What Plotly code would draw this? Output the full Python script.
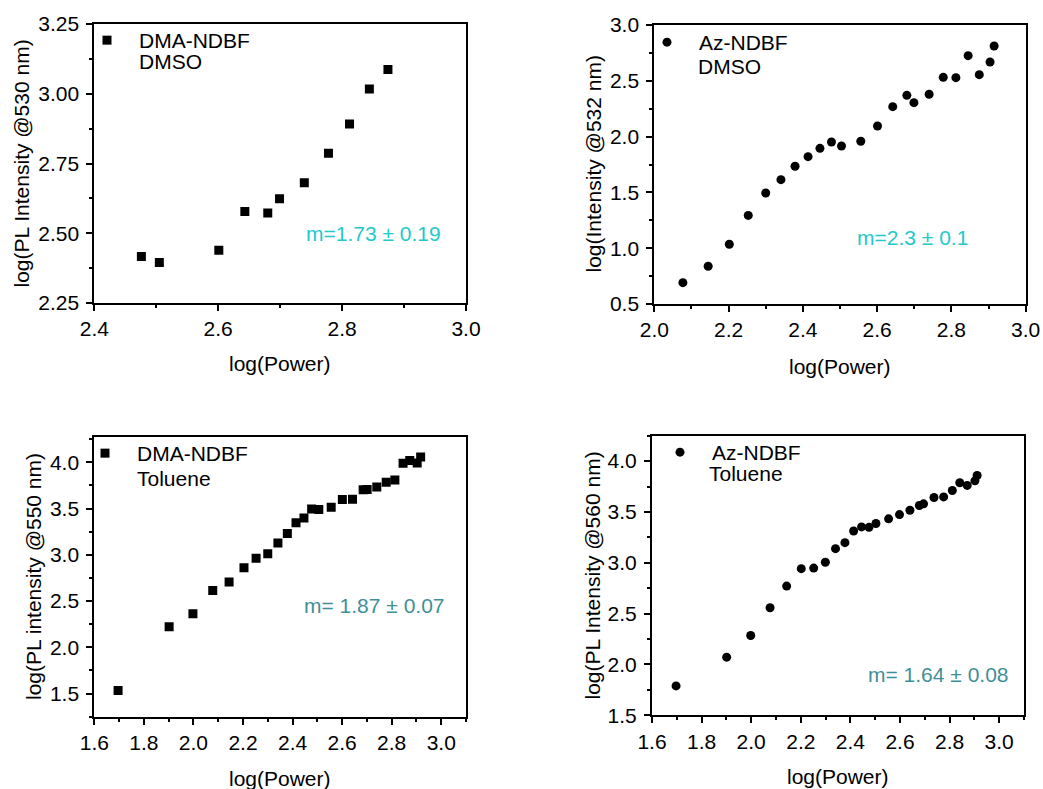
import plotly.graph_objects as go

# ---------------- data ----------------
p1_x = [2.476, 2.505, 2.601, 2.643, 2.680, 2.699, 2.739, 2.778, 2.812, 2.844, 2.874]
p1_y = [2.417, 2.395, 2.439, 2.578, 2.573, 2.624, 2.681, 2.787, 2.892, 3.017, 3.087]

p2_x = [2.077, 2.145, 2.202, 2.253, 2.300, 2.341, 2.379, 2.414, 2.446, 2.477, 2.504, 2.556,
        2.601, 2.642, 2.680, 2.699, 2.740, 2.778, 2.812, 2.845, 2.875, 2.904, 2.915]
p2_y = [0.691, 0.838, 1.035, 1.294, 1.495, 1.614, 1.734, 1.820, 1.895, 1.952, 1.916, 1.958,
        2.095, 2.268, 2.370, 2.304, 2.379, 2.531, 2.528, 2.725, 2.555, 2.668, 2.812]

p3_x = [1.696, 1.902, 1.998, 2.078, 2.144, 2.204, 2.253, 2.300, 2.341, 2.379, 2.414, 2.446, 2.477,
        2.506, 2.556, 2.601, 2.642, 2.685, 2.701, 2.740, 2.778, 2.813, 2.846, 2.873, 2.903, 2.917]
p3_y = [1.532, 2.222, 2.362, 2.613, 2.707, 2.861, 2.962, 3.012, 3.127, 3.231, 3.346, 3.397, 3.494,
        3.490, 3.515, 3.598, 3.601, 3.702, 3.705, 3.734, 3.784, 3.809, 3.989, 4.018, 3.993, 4.057]

p4_x = [1.697, 1.901, 1.998, 2.076, 2.143, 2.202, 2.252, 2.299, 2.340, 2.378, 2.413, 2.445, 2.475,
        2.503, 2.554, 2.598, 2.640, 2.678, 2.695, 2.737, 2.776, 2.811, 2.841, 2.871, 2.902, 2.911]
p4_y = [1.789, 2.072, 2.285, 2.558, 2.771, 2.942, 2.948, 3.005, 3.139, 3.198, 3.313, 3.353, 3.349,
        3.386, 3.432, 3.474, 3.517, 3.563, 3.580, 3.642, 3.648, 3.711, 3.787, 3.761, 3.806, 3.859]

compounds = ["DMA-NDBF", "Az-NDBF", "DMA-NDBF", "Az-NDBF"]
solvents = ["DMSO", "DMSO", "Toluene", "Toluene"]
y_titles = ["log(PL Intensity @530 nm)", "log(Intensity @532 nm)",
            "log(PL intensity @550 nm)", "log(PL Intensity @560 nm)"]
x_title = "log(Power)"
slopes = ["m=1.73 ± 0.19", "m=2.3 ± 0.1", "m= 1.87 ± 0.07", "m= 1.64 ± 0.08"]

# ---------------- layout geometry (pixels) ----------------
W, H = 1043, 789
FONT = "Arial, 'Liberation Sans', Helvetica, sans-serif"
FS = 21

def px_x(v):
    return v / W

def px_y(v):
    return 1 - v / H

# frame boxes: left, right, top, bottom (px)
boxes = [(94.3, 466.0, 24.0, 303.0),
         (654.3, 1025.7, 25.0, 304.0),
         (94.3, 466.0, 437.3, 716.7),
         (652.0, 1024.0, 435.7, 715.3)]

xranges = [[2.4, 3.0], [2.0, 3.0], [1.6, 3.1], [1.6, 3.1]]
yranges = [[2.25, 3.25], [0.5, 3.0], [1.25, 4.27], [1.5, 4.25]]
ydticks = [0.25, 0.5, 0.5, 0.5]
yformats = [".2f", ".1f", ".1f", ".1f"]
symbols = ["square", "circle", "square", "circle"]
slope_colors = ["#22C9CB", "#22C9CB", "#3F8F97", "#3F8F97"]
slope_pos = [(373, 233), (912, 237), (374, 605), (938, 674)]
legend_marker = [(107, 39), (667, 41), (105, 452), (680, 451)]
solvent_pos = [(137, 62), (696, 66), (135, 478), (707, 473)]
ytitle_x = [21, 593, 33, 592]
xtitle_y = [363, 366, 778, 776]

datasets = [(p1_x, p1_y), (p2_x, p2_y), (p3_x, p3_y), (p4_x, p4_y)]

fig = go.Figure()
layout = dict(
    template="none",
    width=W, height=H,
    margin=dict(l=0, r=0, t=0, b=0, autoexpand=False),
    paper_bgcolor="white", plot_bgcolor="white",
    font=dict(family=FONT, size=FS, color="black"),
    showlegend=True,
)
annotations = []

for i in range(4):
    k = "" if i == 0 else str(i + 1)
    left, right, top, bottom = boxes[i]
    xs, ys = datasets[i]
    fig.add_trace(go.Scatter(
        x=xs, y=ys, mode="markers", name=compounds[i],
        marker=dict(symbol=symbols[i], size=9, color="black", line=dict(width=0)),
        xaxis="x" + k, yaxis="y" + k,
        legend="legend" + k,
    ))
    common = dict(
        showline=True, linecolor="black", linewidth=2, mirror=True,
        ticks="outside", ticklen=6, tickwidth=2, tickcolor="black",
        showgrid=False, zeroline=False, automargin=False,
        tickfont=dict(family=FONT, size=FS, color="black"),
    )
    layout["xaxis" + k] = dict(
        common, domain=[px_x(left), px_x(right)], range=xranges[i],
        dtick=0.2, tick0=0, tickformat=".1f", anchor="y" + k,
        minor=dict(ticks="outside", ticklen=3, tickwidth=1.5, dtick=0.1, tickcolor="black", showgrid=False),
    )
    layout["yaxis" + k] = dict(
        common, domain=[px_y(bottom), px_y(top)], range=yranges[i],
        dtick=ydticks[i], tick0=0, tickformat=yformats[i], anchor="x" + k,
        ticklabelstandoff=3,
        minor=dict(ticks="outside", ticklen=3, tickwidth=1.5, dtick=ydticks[i] / 2, tickcolor="black", showgrid=False),
    )
    mx, my = legend_marker[i]
    layout["legend" + k] = dict(
        x=px_x(mx - 32), y=px_y(my - 19), xanchor="left", yanchor="top",
        bgcolor="rgba(0,0,0,0)", borderwidth=0,
        font=dict(family=FONT, size=FS, color="black"),
        itemwidth=54,
    )
    sx, sy = solvent_pos[i]
    annotations.append(dict(
        text=solvents[i], xref="paper", yref="paper", x=px_x(sx), y=px_y(sy),
        xanchor="left", yanchor="middle", showarrow=False,
        font=dict(family=FONT, size=FS, color="black"),
    ))
    sx, sy = slope_pos[i]
    annotations.append(dict(
        text=slopes[i], xref="paper", yref="paper", x=px_x(sx), y=px_y(sy),
        xanchor="center", yanchor="middle", showarrow=False,
        font=dict(family=FONT, size=FS, color=slope_colors[i]),
    ))
    annotations.append(dict(
        text=y_titles[i], xref="paper", yref="paper", x=px_x(ytitle_x[i]),
        y=px_y((top + bottom) / 2), xanchor="center", yanchor="middle",
        textangle=-90, showarrow=False, font=dict(family=FONT, size=FS, color="black"),
    ))
    annotations.append(dict(
        text=x_title, xref="paper", yref="paper", x=px_x((left + right) / 2),
        y=px_y(xtitle_y[i]), xanchor="center", yanchor="middle",
        showarrow=False, font=dict(family=FONT, size=FS, color="black"),
    ))

layout["annotations"] = annotations
fig.update_layout(**layout)
fig.write_html(
    "out.html",
    config={"displayModeBar": False},
    post_script="document.body.style.margin='0';document.body.style.padding='0';"
                "document.documentElement.style.margin='0';",
)
